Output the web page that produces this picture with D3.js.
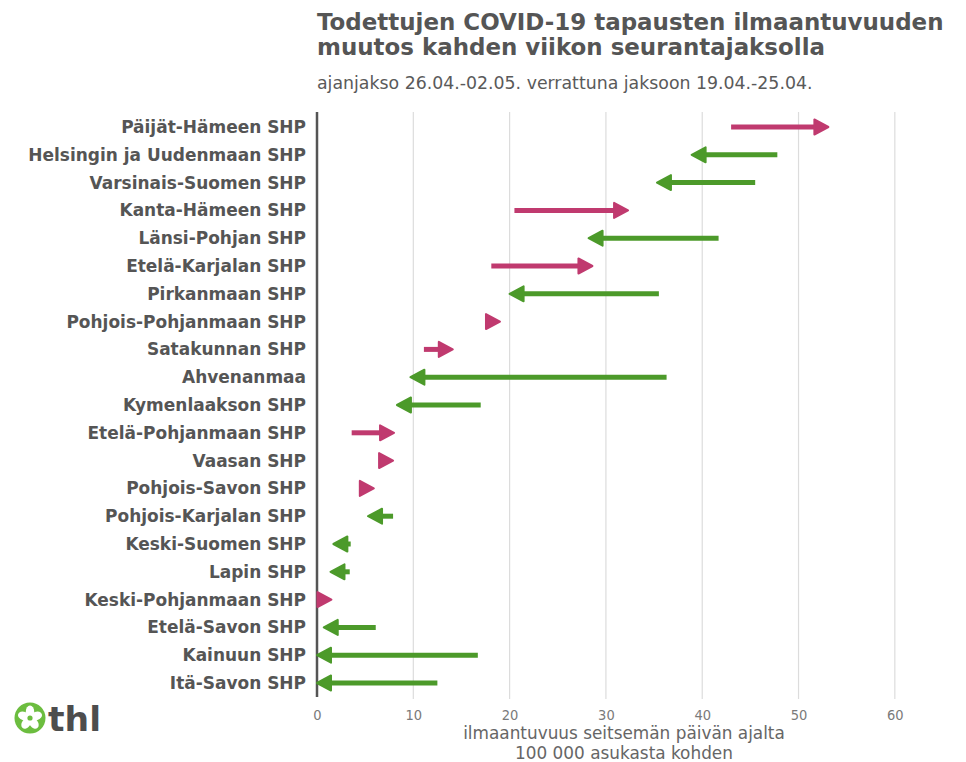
<!DOCTYPE html>
<html><head><meta charset="utf-8">
<script src="https://cdn.jsdelivr.net/npm/d3@7"></script>
<style>
body{margin:0;background:#fff;}
svg{display:block;}
</style></head>
<body>
<script>
const regions = ["Päijät-Hämeen SHP","Helsingin ja Uudenmaan SHP","Varsinais-Suomen SHP","Kanta-Hämeen SHP","Länsi-Pohjan SHP","Etelä-Karjalan SHP","Pirkanmaan SHP","Pohjois-Pohjanmaan SHP","Satakunnan SHP","Ahvenanmaa","Kymenlaakson SHP","Etelä-Pohjanmaan SHP","Vaasan SHP","Pohjois-Savon SHP","Pohjois-Karjalan SHP","Keski-Suomen SHP","Lapin SHP","Keski-Pohjanmaan SHP","Etelä-Savon SHP","Kainuun SHP","Itä-Savon SHP"];
const previous = [43.0,47.8,45.5,20.5,41.7,18.1,35.5,17.8,11.1,36.3,17.0,3.6,7.0,4.9,7.9,3.5,3.4,0.5,6.1,16.7,12.5];
const current  = [53.1,38.9,35.3,32.3,28.2,28.6,20.0,19.0,14.1,9.7,8.3,8.0,7.9,5.9,5.3,1.7,1.4,1.5,0.7,0.0,0.0];
const xTicks = [0,10,20,30,40,50,60];
const titleLines = ["Todettujen COVID-19 tapausten ilmaantuvuuden","muutos kahden viikon seurantajaksolla"];
const subtitle = "ajanjakso 26.04.-02.05. verrattuna jaksoon 19.04.-25.04.";
const axisTitle = ["ilmaantuvuus seitsemän päivän ajalta","100 000 asukasta kohden"];

const W=966,H=762;
const up="#c03a6f", down="#4c9a2a", textCol="#555555";
const svg=d3.select("body").append("svg").attr("width",W).attr("height",H);

function fit(sel, target){ // scale font-size so that first node width = target
  const n=sel.node(); const fs=+sel.attr("font-size");
  const w=n.getComputedTextLength();
  const nf=fs*target/w;
  sel.attr("font-size",nf);
  return nf;
}

const x=d3.scaleLinear().domain([0,63.86]).range([317,932]);
const y=d3.scalePoint().domain(regions).range([127,683]);
const plotTop=112, plotBottom=697;

// title
const tt=svg.append("g").selectAll("text").data(titleLines).join("text")
  .attr("x",317).attr("y",(d,i)=>30+i*24.5)
  .attr("font-family","DejaVu Sans").attr("font-weight","bold")
  .attr("font-size",21.5).attr("fill",textCol).text(d=>d);
const tfs=fit(d3.select(tt.nodes()[0]),627);
tt.attr("font-size",tfs);
const st=svg.append("text").attr("x",317).attr("y",89)
  .attr("font-family","DejaVu Sans").attr("font-size",16.5)
  .attr("fill","#5a5a5a").text(subtitle);
fit(st,496);

// gridlines
svg.append("g").selectAll("line").data(xTicks.filter(d=>d>0)).join("line")
  .attr("x1",d=>x(d)).attr("x2",d=>x(d)).attr("y1",plotTop).attr("y2",plotBottom+2)
  .attr("stroke","#dcdcdc").attr("stroke-width",1.2);

// x axis labels
const xAxis=d3.axisBottom(x).tickValues(xTicks).tickSize(0).tickPadding(0);
const gx=svg.append("g").attr("transform",`translate(0,${plotBottom})`).call(xAxis);
gx.select(".domain").remove();
gx.selectAll("text").attr("y",23).attr("dy",0)
  .attr("font-family","DejaVu Sans Condensed, DejaVu Sans").attr("font-size",14.5).attr("fill","#7a7a7a");

const at=svg.append("g").selectAll("text").data(axisTitle).join("text")
  .attr("x",624).attr("y",(d,i)=>739+i*19.5).attr("text-anchor","middle")
  .attr("font-family","DejaVu Sans").attr("font-size",16.5)
  .attr("fill","#666").text(d=>d);
const afs=fit(d3.select(at.nodes()[0]),322);
at.attr("font-size",afs);

// y axis labels
const yAxis=d3.axisLeft(y).tickSize(0).tickPadding(11);
const gy=svg.append("g").attr("transform","translate(317,0)").call(yAxis);
gy.select(".domain").remove();
const ylab=gy.selectAll("text").attr("font-family","DejaVu Sans").attr("font-weight","bold")
  .attr("font-size",15.5).attr("fill",textCol);
const helsinki=ylab.filter(d=>d==="Helsingin ja Uudenmaan SHP");
const yfs=fit(helsinki,278);
ylab.attr("font-size",yfs);

// y axis line
svg.append("line").attr("x1",317).attr("x2",317).attr("y1",plotTop).attr("y2",plotBottom)
  .attr("stroke","#555").attr("stroke-width",2.5);

// arrows
const headLen=14, headHalf=7.5;
const data=regions.map((r,i)=>({r,p:previous[i],c:current[i]}));
const g=svg.append("g");
data.forEach(d=>{
  const col=d.c>=d.p?up:down;
  const dir=d.c>=d.p?1:-1;
  const yy=y(d.r);
  const tip=x(d.c), tail=x(d.p);
  const base=tip-dir*headLen;
  if((base-tail)*dir>0){
    g.append("line").attr("x1",tail).attr("x2",base+dir*2).attr("y1",yy).attr("y2",yy)
      .attr("stroke",col).attr("stroke-width",5);
  }
  g.append("path")
    .attr("d",`M${tip},${yy} L${base},${yy-headHalf} L${base},${yy+headHalf} Z`)
    .attr("fill",col).attr("stroke",col).attr("stroke-width",2).attr("stroke-linejoin","round");
});

// logo
const logo=svg.append("g").attr("transform","translate(30,718)");
logo.append("circle").attr("r",15.5).attr("fill","#6cbd3f");
for(let k=0;k<5;k++){
  logo.append("ellipse").attr("cx",0).attr("cy",-6.5).attr("rx",4.2).attr("ry",6)
    .attr("fill","#fff").attr("transform",`rotate(${k*72})`);
}
logo.append("circle").attr("r",2.6).attr("fill","#6cbd3f");
const thl=svg.append("text").attr("x",48).attr("y",731).attr("font-family","DejaVu Sans")
  .attr("font-weight","bold").attr("font-size",32).attr("fill","#4d4d4d").text("thl");
fit(thl,53);
</script>
</body></html>
